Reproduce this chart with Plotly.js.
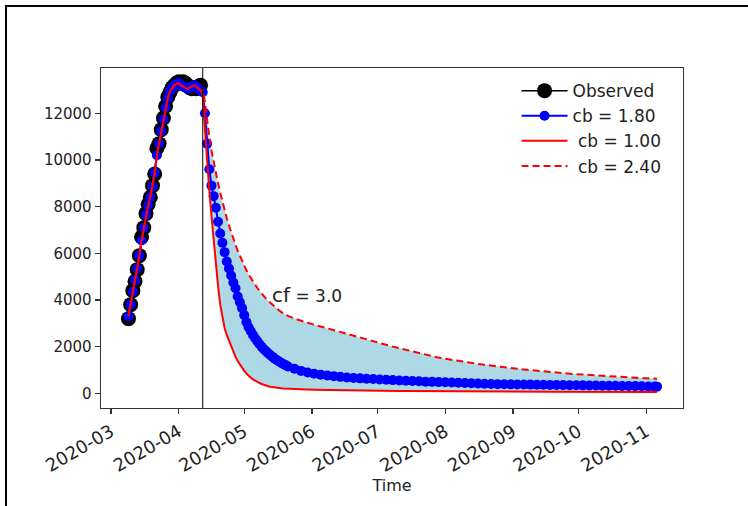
<!DOCTYPE html>
<html>
<head>
<meta charset="utf-8">
<script src="https://cdn.plot.ly/plotly-3.0.1.min.js"></script>
<style>
  html, body { margin: 0; padding: 0; background: #fff; }
  #wrap { position: relative; width: 748px; height: 506px; overflow: hidden; }
  #plot { position: absolute; left: 0; top: 0; width: 748px; height: 506px; }
  #frame { position: absolute; left: 5px; top: 5px; width: 800px; height: 600px;
           border-left: 2px solid #000; border-top: 2px solid #000; pointer-events: none; }
</style>
</head>
<body>
<div id="wrap"><div id="plot"></div><div id="frame"></div></div>
<script>
// ---------------- data ----------------
// day offsets are counted from 2020-03-01
const baseDate = '2020-03-01';
const obsFirstDay = 8;            // 2020-03-09
const cutoffDate = '2020-04-12';  // vertical marker line

const observed = [3200, 3800, 4400, 4800, 5300, 5900, 6700, 7100, 7700, 8100,
                  8400, 8900, 9400, 10500, 10700, 11300, 11800, 12300, 12700, 12900,
                  13100, 13200, 13300, 13350, 13300, 13350, 13300, 13200, 13100, 13050,
                  13100, 13050, 13150, 13200];

// model fit over the observed period (common to all cb values)
const fitVals = [3300, 3800, 4350, 4850, 5350, 5900, 6550, 7100, 7650, 8050,
                 8400, 8850, 9450, 10200, 10700, 11250, 11750, 12250, 12650, 12950,
                 13100, 13200, 13250, 13300, 13200, 13150, 13100, 13050, 13100, 13150,
                 13200, 13150, 13050, 13000];

const decayDays = [42, 43, 44, 45, 46, 47, 48, 49, 50, 51, 52, 53, 54, 55, 56, 57, 58, 59, 60, 61,
                   62, 63, 64, 65, 66, 67, 68, 69, 70, 71, 72, 73, 74, 75, 76, 77, 78, 79, 80,
                   81, 84, 87, 90, 93, 96, 99, 102, 105, 108, 111, 114, 117, 120, 123, 126, 129,
                   132, 135, 138, 141, 144, 147, 150, 153, 156, 159, 162, 165, 168, 171, 174,
                   177, 180, 183, 186, 189, 192, 195, 198, 201, 204, 207, 210, 213, 216, 219,
                   222, 225, 228, 231, 234, 237, 240, 243, 246, 249, 250];

const cb180 = [12900, 12000, 10700, 9600, 8900, 8450, 7950, 7350, 6850, 6450, 6050, 5650, 5350, 5050, 4750, 4500, 4150, 3900, 3650, 3350,
               3050, 2830, 2660, 2500, 2360, 2230, 2100, 1990, 1890, 1800, 1710, 1630, 1560, 1480, 1420, 1360, 1300, 1250, 1200,
               1150, 1050, 960, 890, 840, 800, 765, 735, 705, 680, 660, 640, 625, 610, 595, 580, 565,
               550, 540, 525, 515, 500, 490, 480, 470, 460, 450, 440, 430, 420, 410, 400,
               392, 388, 384, 380, 376, 372, 368, 364, 360, 356, 352, 348, 344, 340, 336,
               332, 328, 324, 320, 316, 312, 308, 300, 293, 287, 285];

const cb100 = [12800, 11300, 9900, 8700, 7600, 6500, 5500, 4600, 3800, 3200, 2800, 2500, 2250, 2000, 1780, 1560, 1380, 1220, 1080, 960,
               850, 750, 670, 600, 540, 490, 440, 400, 360, 330, 305, 285, 265, 250, 237, 226, 216, 208, 201,
               195, 180, 168, 158, 150, 144, 139, 134, 130, 126, 122, 118, 115, 112, 109, 106, 103,
               100, 98, 95, 93, 91, 89, 87, 85, 83, 81, 79, 78, 76, 75, 73,
               72, 70, 69, 68, 67, 66, 65, 64, 63, 62, 61, 60, 60, 59, 58,
               58, 57, 57, 56, 56, 55, 55, 54, 54, 53, 53];

const cb240 = [13000, 12500, 11700, 11000, 10400, 9900, 9450, 9000, 8600, 8200, 7850, 7500, 7200, 6900, 6620, 6360, 6110, 5880, 5660, 5450,
               5270, 5100, 4940, 4790, 4650, 4510, 4380, 4260, 4160, 4060, 3960, 3870, 3785, 3700, 3625, 3550, 3480, 3420, 3370,
               3320, 3200, 3100, 3020, 2940, 2860, 2780, 2700, 2620, 2540, 2460, 2370, 2290, 2210, 2140, 2070, 2000,
               1930, 1860, 1790, 1720, 1650, 1580, 1530, 1480, 1430, 1380, 1340, 1300, 1260, 1220, 1180,
               1140, 1110, 1080, 1050, 1020, 990, 960, 935, 910, 885, 860, 840, 820, 800, 780,
               760, 740, 725, 710, 695, 680, 665, 650, 640, 630, 625];

const yTicks = [0, 2000, 4000, 6000, 8000, 10000, 12000];
const labels = {obs: 'Observed', b18: 'cb = 1.80', b10: '\u00a0cb = 1.00', b24: '\u00a0cb = 2.40'};
const annText = ['cf', '= 3.0'];

// ---------------- build ----------------
const base = Date.UTC(2020, 2, 1);
function dayToDate(d) { return new Date(base + d * 86400000).toISOString().slice(0, 10); }

const obsDates = observed.map((_, i) => dayToDate(obsFirstDay + i));
const modelDates = obsDates.concat(decayDays.map(dayToDate));
const m180 = fitVals.concat(cb180);
const m100 = fitVals.concat(cb100);
const m240 = fitVals.concat(cb240);

const traces = [
  {x: modelDates, y: m100, mode: 'lines', line: {width: 0, color: 'rgba(0,0,0,0)'},
   showlegend: false, hoverinfo: 'skip'},
  {x: modelDates, y: m240, mode: 'lines', line: {width: 0, color: 'rgba(0,0,0,0)'},
   fill: 'tonexty', fillcolor: '#add8e6', showlegend: false, hoverinfo: 'skip'},
  {x: obsDates, y: observed, name: labels.obs, mode: 'lines+markers',
   line: {color: '#000', width: 1.5}, marker: {color: '#000', size: 15}},
  {x: modelDates, y: m180, name: labels.b18, mode: 'lines+markers',
   line: {color: '#0000ff', width: 2}, marker: {color: '#0000ff', size: 10}},
  {x: modelDates, y: m100, name: labels.b10, mode: 'lines',
   line: {color: '#ff0000', width: 2}},
  {x: modelDates, y: m240, name: labels.b24, mode: 'lines',
   line: {color: '#ff0000', width: 2, dash: '7px,4px'}}
];

const font = {family: 'DejaVu Sans, sans-serif', color: '#222'};

const layout = {
  width: 748, height: 506,
  margin: {l: 101, r: 65, t: 68, b: 98, pad: 0},
  paper_bgcolor: '#fff', plot_bgcolor: '#fff',
  font: Object.assign({size: 15}, font),
  showlegend: true,
  legend: {x: 0.714, y: 0.985, xanchor: 'left', yanchor: 'top', traceorder: 'normal',
           bgcolor: 'rgba(255,255,255,0)', borderwidth: 0,
           font: Object.assign({size: 17}, font), itemwidth: 46, tracegroupgap: 0},
  xaxis: {
    type: 'date',
    range: ['2020-02-25 10:00', '2020-11-17 21:00'],
    tick0: baseDate, dtick: 'M1', tickformat: '%Y-%m', tickangle: -30,
    ticks: 'outside', ticklen: 5, tickwidth: 1.2, tickcolor: '#333',
    showline: true, linecolor: '#333', linewidth: 1.4, mirror: true,
    showgrid: false, zeroline: false,
    tickfont: Object.assign({size: 18}, font),
    title: {text: 'Time', font: Object.assign({size: 16}, font), standoff: 5}
  },
  yaxis: {
    range: [-630, 13941],
    tickmode: 'array', tickvals: yTicks, ticktext: yTicks.map(String),
    ticks: 'outside', ticklen: 5, tickwidth: 1.2, tickcolor: '#333',
    showline: true, linecolor: '#333', linewidth: 1.4, mirror: true,
    showgrid: false, zeroline: false,
    tickfont: Object.assign({size: 15}, font)
  },
  shapes: [{type: 'line', xref: 'x', yref: 'paper', x0: cutoffDate, x1: cutoffDate, y0: 0, y1: 1,
            line: {color: '#000', width: 1}}],
  annotations: [{
    xref: 'x', yref: 'y', x: '2020-05-12 18:00', y: 4210, xanchor: 'left', yanchor: 'middle',
    showarrow: false,
    text: '<span style="font-size:20px">' + annText[0] + '</span> ' + annText[1],
    font: Object.assign({size: 17}, font)
  }]
};

Plotly.newPlot('plot', traces, layout, {displayModeBar: false, staticPlot: true});
</script>
</body>
</html>
